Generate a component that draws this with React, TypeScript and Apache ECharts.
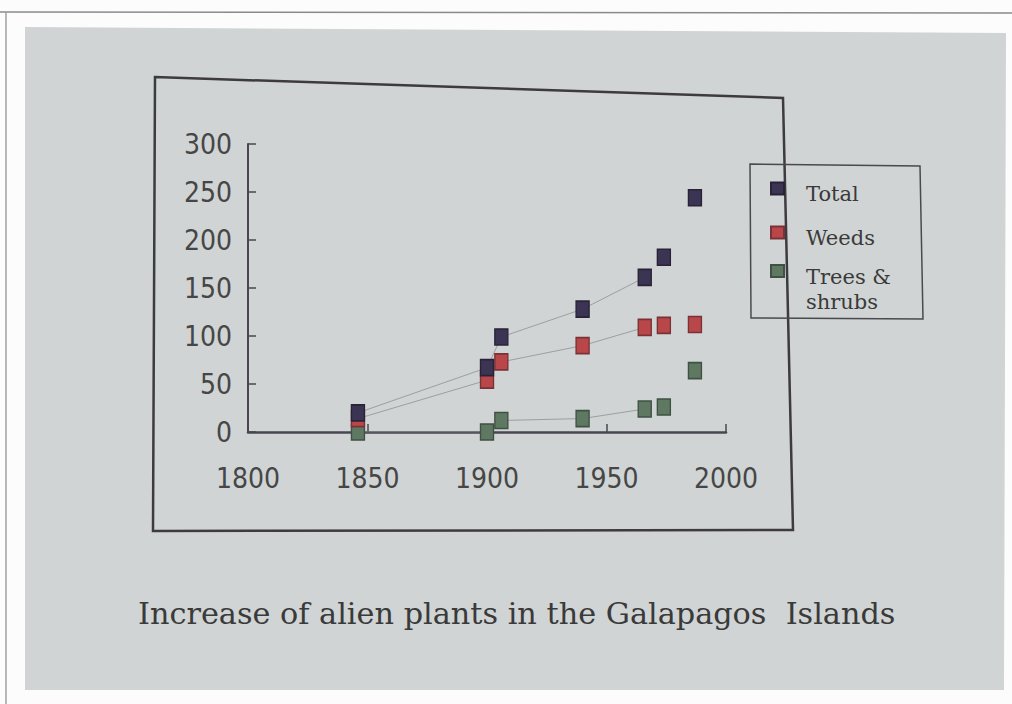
import React, { useEffect, useRef } from "react";
import * as echarts from "echarts";

const years = [1846, 1900, 1906, 1940, 1966, 1974, 1987];
const total = [20, 67, 99, 128, 161, 182, 244];
const weeds = [14, 54, 73, 90, 109, 111, 112];
const trees = [0, 0, 12, 14, 24, 26, 64];
const trendCount = 5; // points joined by the thin trend line
const yTicks = [0, 50, 100, 150, 200, 250, 300];
const xTicks = [1800, 1850, 1900, 1950, 2000];
const seriesNames = ["Total", "Weeds", "Trees & shrubs"];
const legendLines: Record<string, string[]> = {
  Total: ["Total"],
  Weeds: ["Weeds"],
  "Trees & shrubs": ["Trees &", "shrubs"],
};
const title = "Increase of alien plants in the Galapagos  Islands";

const colors = {
  Total: { fill: "#3b3452", border: "#2a2338" },
  Weeds: { fill: "#b9474a", border: "#7a3236" },
  "Trees & shrubs": { fill: "#5f7862", border: "#3f5143" },
};

const pairs = (vals: number[]) => years.map((y, i) => [y, vals[i]]);

export default function App() {
  const ref = useRef<HTMLDivElement>(null);
  useEffect(() => {
    if (!ref.current) return;
    const chart = echarts.init(ref.current, undefined, { renderer: "svg" });
    const values: Record<string, number[]> = {
      Total: total,
      Weeds: weeds,
      "Trees & shrubs": trees,
    };
    const axisFont = '"Liberation Sans Narrow", "DejaVu Sans Condensed", "Open Sans", sans-serif';
    const serif = '"DejaVu Serif", "Liberation Serif", serif';
    const trendSeries = seriesNames.map((n) => ({
      name: n + " trend",
      type: "line",
      data: pairs(values[n]).slice(0, trendCount),
      symbol: "none",
      lineStyle: { color: "#8e9294", width: 0.8 },
      z: 1,
      silent: true,
    }));
    const scatterSeries = ["Trees & shrubs", "Weeds", "Total"].map((n) => ({
      name: n,
      type: "scatter",
      data: pairs(values[n]),
      symbol: "rect",
      symbolSize: [13, 16],
      itemStyle: {
        color: colors[n as keyof typeof colors].fill,
        borderColor: colors[n as keyof typeof colors].border,
        borderWidth: 1.5,
        opacity: 1,
      },
      z: 3,
    }));
    const legendText = (spacer: number) => ({
      fontFamily: serif,
      fontSize: 21,
      color: "#3a3a3a",
      padding: [0, 0, 0, 17],
      rich: {
        s: { fontSize: 4, lineHeight: spacer, fontFamily: serif },
        t: { fontFamily: serif, fontSize: 21, lineHeight: 25, color: "#3a3a3a" },
      },
    });
    const legendBase = {
      orient: "vertical",
      left: 770,
      padding: 0,
      icon: "rect",
      itemWidth: 13,
      itemHeight: 12,
      selectedMode: false,
      formatter: (name: string) =>
        ["{s| }", ...legendLines[name].map((l) => "{t|" + l + "}")].join("\n"),
    };
    chart.setOption({
      animation: false,
      backgroundColor: "#fcfcfc",
      grid: { left: 248, right: 286, top: 144, bottom: 272, containLabel: false },
      xAxis: {
        type: "value",
        min: xTicks[0],
        max: xTicks[xTicks.length - 1],
        interval: 50,
        axisLine: { show: true, lineStyle: { color: "#4a4650", width: 2.5 } },
        axisTick: { show: true, inside: true, length: 8, lineStyle: { color: "#4a4650", width: 1.5 } },
        splitLine: { show: false },
        axisLabel: {
          margin: 32,
          fontFamily: axisFont,
          fontSize: 28,
          color: "#464646",
          showMinLabel: true,
          showMaxLabel: true,
          formatter: (v: number) => String(v),
        },
      },
      yAxis: {
        type: "value",
        min: yTicks[0],
        max: yTicks[yTicks.length - 1],
        interval: 50,
        axisLine: { show: true, lineStyle: { color: "#4a4650", width: 2 } },
        axisTick: { show: true, inside: true, length: 8, lineStyle: { color: "#4a4650", width: 1.5 } },
        splitLine: { show: false },
        axisLabel: {
          margin: 16,
          fontFamily: axisFont,
          fontSize: 28,
          color: "#464646",
          formatter: (v: number) => String(v),
        },
      },
      legend: [
        { ...legendBase, top: 174, data: ["Total"], textStyle: legendText(10) },
        { ...legendBase, top: 218, data: ["Weeds"], textStyle: legendText(10) },
        { ...legendBase, top: 244, data: ["Trees & shrubs"], textStyle: legendText(37) },
      ],
      graphic: [
        {
          type: "line",
          shape: { x1: 0, y1: 12, x2: 1012, y2: 13 },
          style: { stroke: "#8a8a8a", lineWidth: 1.5 },
          z: -20,
        },
        {
          type: "line",
          shape: { x1: 6, y1: 12, x2: 6, y2: 704 },
          style: { stroke: "#a0a0a0", lineWidth: 1.5 },
          z: -20,
        },
        {
          type: "polygon",
          shape: { points: [[25, 27], [1006, 33], [1004, 690], [25, 690]] },
          style: { fill: "#d0d4d4" },
          z: -20,
        },
        {
          type: "polygon",
          shape: { points: [[155, 77], [783, 98], [793, 530], [153, 531]] },
          style: { fill: "none", stroke: "#3d3a40", lineWidth: 2.5 },
          z: -10,
        },
        {
          type: "polygon",
          shape: { points: [[750, 164], [920, 166], [923, 319], [751, 318]] },
          style: { fill: "none", stroke: "#4a4a4e", lineWidth: 1.5 },
          z: -10,
        },
        {
          type: "text",
          x: 138,
          y: 613,
          style: {
            text: title,
            fontFamily: serif,
            fontSize: 30.3,
            fill: "#3a3a3a",
            verticalAlign: "middle",
            align: "left",
          },
          z: -5,
        },
      ],
      series: [...trendSeries, ...scatterSeries],
    });
    return () => chart.dispose();
  }, []);
  return (
    <div
      ref={ref}
      style={{ position: "fixed", left: 0, top: 0, width: 1012, height: 704 }}
    />
  );
}
